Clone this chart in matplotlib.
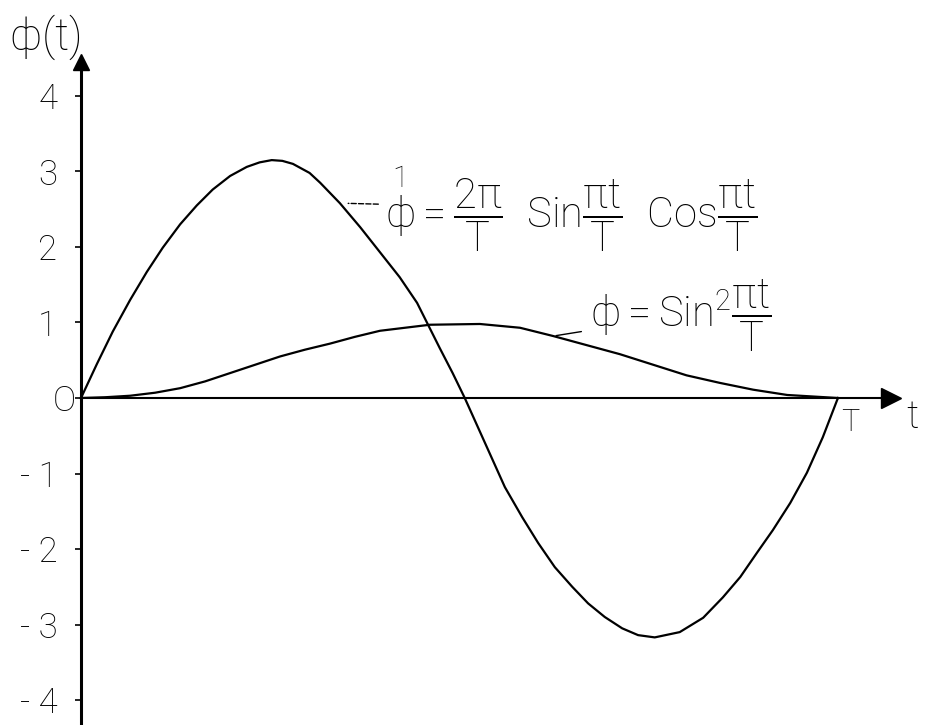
import matplotlib
matplotlib.use('Agg')
import matplotlib.pyplot as plt
import matplotlib.transforms as mtransforms

# valeurs (t exprime en fraction de T)
t_dphi = [0.0, 0.021, 0.042, 0.065, 0.087, 0.108, 0.131, 0.153, 0.174, 0.197, 0.219, 0.236, 0.252,
          0.266, 0.280, 0.302, 0.316, 0.342, 0.369, 0.395, 0.421, 0.444, 0.458, 0.474, 0.491, 0.507,
          0.538, 0.560, 0.583, 0.604, 0.626, 0.649, 0.670, 0.692, 0.715, 0.736, 0.758, 0.791, 0.822,
          0.848, 0.871, 0.893, 0.914, 0.937, 0.959, 0.980, 1.0]
dphi = [0.0, 0.45, 0.88, 1.30, 1.67, 1.99, 2.30, 2.55, 2.76, 2.94, 3.06, 3.12, 3.15,
        3.14, 3.10, 2.98, 2.85, 2.58, 2.26, 1.93, 1.60, 1.26, 0.98, 0.66, 0.33, 0.0,
        -0.69, -1.18, -1.58, -1.92, -2.24, -2.50, -2.72, -2.90, -3.05, -3.14, -3.17, -3.10, -2.91,
        -2.64, -2.37, -2.05, -1.75, -1.39, -0.99, -0.52, 0.0]

t_phi = [0.0, 0.032, 0.065, 0.098, 0.131, 0.164, 0.197, 0.230, 0.263, 0.296, 0.329, 0.362, 0.395,
         0.428, 0.461, 0.494, 0.527, 0.580, 0.624, 0.668, 0.712, 0.756, 0.800, 0.844, 0.888,
         0.933, 1.0]
phi = [0.0, 0.01, 0.03, 0.07, 0.13, 0.22, 0.33, 0.44, 0.55, 0.64, 0.72, 0.81, 0.89,
       0.93, 0.97, 0.975, 0.98, 0.93, 0.82, 0.70, 0.58, 0.44, 0.30, 0.20, 0.11,
       0.04, 0.0]

yticks = [4, 3, 2, 1, 0, -1, -2, -3, -4]
ytick_labels = ['4', '3', '2', '1', 'O', '- 1', '- 2', '- 3', '- 4']

plt.rcParams['font.family'] = ['Roboto', 'DejaVu Sans']
plt.rcParams['font.weight'] = 'light'
plt.rcParams['mathtext.fontset'] = 'custom'
plt.rcParams['mathtext.rm'] = 'Roboto:light'
plt.rcParams['mathtext.it'] = 'Roboto:light'
plt.rcParams['mathtext.sf'] = 'Roboto:light'

fig = plt.figure(figsize=(9.28, 7.25), dpi=100)
ax = fig.add_axes([0, 0, 1, 1])
ax.set_xlim(-0.107, 1.119)
ax.set_ylim(-4.33, 5.27)

# courbes
ax.plot(t_dphi, dphi, color='black', lw=1.6)
ax.plot(t_phi, phi, color='black', lw=1.6)

# axes avec fleches
for s in ['top', 'right']:
    ax.spines[s].set_visible(False)
ax.spines['left'].set_position(('data', 0))
ax.spines['bottom'].set_position(('data', 0))
ax.spines['left'].set_bounds(-4.33, 4.45)
ax.spines['bottom'].set_bounds(0, 1.07)
ax.spines['left'].set_linewidth(2.2)
ax.spines['bottom'].set_linewidth(1.5)
ax.plot(0, 4.45, marker='^', color='black', ms=12, clip_on=False)
ax.plot(1.07, 0, marker='>', color='black', ms=14, clip_on=False)

ax.set_xticks([])
ax.set_yticks(yticks)
ax.set_yticklabels(ytick_labels, fontsize=25)
ax.tick_params(axis='y', direction='out', length=4, width=1.2, pad=13)
# le zero est dessine plus pres de l'axe
for lab in ax.get_yticklabels():
    if lab.get_text() == 'O':
        lab.set_transform(lab.get_transform() +
                          mtransforms.ScaledTranslation(0.18, 0, fig.dpi_scale_trans))

# etiquettes des axes
ax.text(-0.048, 4.77, r'$\phi$(t)', fontsize=32, ha='center', va='center')
ax.text(1.099, -0.25, 't', fontsize=28, ha='center', va='center')
ax.text(1.016, -0.33, 'T', fontsize=22, ha='center', va='center')

# formules
ax.annotate(r'$\overset{1}{\phi}=\dfrac{2\pi}{\mathrm{T}}\;\;\mathrm{Sin}\dfrac{\pi t}{\mathrm{T}}\;\;'
            r'\mathrm{Cos}\dfrac{\pi t}{\mathrm{T}}$',
            xy=(t_dphi[17], dphi[17]), xytext=(0.402, 2.50), fontsize=30, ha='left', va='center',
            arrowprops=dict(arrowstyle='-', lw=1.0, linestyle='--', color='black',
                            shrinkA=3, shrinkB=6))
ax.annotate(r'$\phi=\mathrm{Sin}^2\dfrac{\pi t}{\mathrm{T}}$',
            xy=(t_phi[18], phi[18]), xytext=(0.672, 1.09), fontsize=30, ha='left', va='center',
            arrowprops=dict(arrowstyle='-', lw=1.0, color='black', shrinkA=4, shrinkB=2))

fig.savefig('out.png', dpi=100)
